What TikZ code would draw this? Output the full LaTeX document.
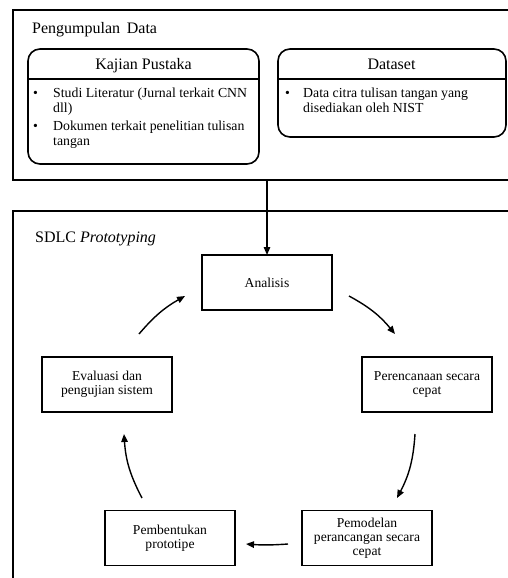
\documentclass[tikz,border=0pt]{standalone}
\usepackage{fontspec}
\setmainfont{Liberation Serif}
\usetikzlibrary{arrows.meta}
\tikzset{
  outerbox/.style={draw, line width=1.5pt},
  rbox/.style={draw, rounded corners=12pt, line width=1.6pt, inner sep=0pt, outer sep=0pt, anchor=north west},
  procbox/.style={draw, line width=1.6pt, minimum width=130pt, minimum height=55pt, align=center,
    font=\fontsize{13.6}{14}\selectfont, inner sep=0pt, outer sep=0pt},
  heading/.style={font=\fontsize{16}{18}\selectfont, anchor=base west, inner sep=0pt},
  boxtitle/.style={font=\fontsize{16}{18}\selectfont, anchor=base, inner sep=0pt},
  listtext/.style={font=\fontsize{13.8}{15}\selectfont, anchor=base west, inner sep=0pt},
  arr/.style={-{Triangle[length=8pt,width=6.5pt]}, line width=1.4pt},
}
\begin{document}
\begin{tikzpicture}[x=1pt,y=1pt]
\clip (0,0) rectangle (508,-578);
\fill[white] (0,0) rectangle (508,-578);
% outer boxes
\draw[outerbox] (13,-10) rectangle (540,-180);
\draw[outerbox] (13,-211) rectangle (540,-620);
\node[heading] (pd) at (32,-34) {Pengumpulan\, Data};
\node[heading] (sdlc) at (35,-242) {SDLC \textit{Prototyping}};
% Kajian Pustaka
\node[rbox, minimum width=231pt, minimum height=115pt] (kajian) at (28,-49) {};
\coordinate (kdl) at (28,-79);
\draw[line width=1.2pt] (kdl) -- (kdl -| kajian.east);
\node[boxtitle] (kt) at (143.5,-70) {Kajian Pustaka};
\node[listtext] (kb1) at (33,-97) {•};
\node[listtext] (k1) at (53,-97) {Studi Literatur (Jurnal terkait CNN};
\node[listtext] (k2) at (53,-112) {dll)};
\node[listtext] (kb2) at (33,-130) {•};
\node[listtext] (k3) at (53,-130) {Dokumen terkait penelitian tulisan};
\node[listtext] (k4) at (53,-145) {tangan};
% Dataset
\node[rbox, minimum width=228pt, minimum height=88pt] (dataset) at (278,-49) {};
\coordinate (ddl) at (278,-79);
\draw[line width=1.2pt] (ddl) -- (ddl -| dataset.east);
\node[boxtitle] (dt) at (391.5,-70) {Dataset};
\node[listtext] (db1) at (285,-97) {•};
\node[listtext] (d1) at (303,-97) {Data citra tulisan tangan yang};
\node[listtext] (d2) at (303,-112) {disediakan oleh NIST};
% process boxes
\node[procbox] (analisis) at (267,-282.5) {Analisis};
\node[procbox] (perencanaan) at (427,-384.5) {Perencanaan secara\\cepat};
\node[procbox] (pemodelan) at (367,-538) {Pemodelan\\perancangan secara\\cepat};
\node[procbox] (pembentukan) at (170,-538) {Pembentukan\\prototipe};
\node[procbox] (evaluasi) at (107,-384.5) {Evaluasi dan\\pengujian sistem};
% connector from data collection
\coordinate (pdb) at (267,-180);
\draw[arr] (pdb) -- (analisis.north);
% cycle arrows
\coordinate (a1s) at (349,-296); \coordinate (a1e) at (395,-334);
\coordinate (a2s) at (415,-434); \coordinate (a2e) at (397,-498);
\coordinate (a3s) at (288,-544); \coordinate (a3e) at (246,-544);
\coordinate (a4s) at (142,-498); \coordinate (a4e) at (124,-434);
\coordinate (a5s) at (139,-334); \coordinate (a5e) at (185,-296);
\draw[arr] (a1s) to[bend left=11] (a1e);
\draw[arr] (a2s) to[bend left=12] (a2e);
\draw[arr] (a3s) to[bend left=4] (a3e);
\draw[arr] (a4s) to[bend left=12] (a4e);
\draw[arr] (a5s) to[bend left=10] (a5e);
\end{tikzpicture}
\end{document}
